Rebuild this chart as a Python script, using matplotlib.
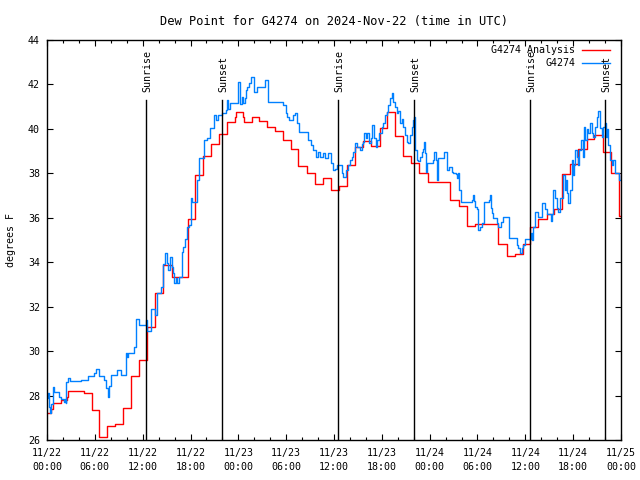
import numpy as np
import matplotlib
matplotlib.use('Agg')
import matplotlib.pyplot as plt

# hours since 2024-11-22 00:00 UTC
red_hours = [0.0, 0.45, 0.75, 1.7, 2.45, 2.62, 4.6, 5.6, 6.56, 7.56, 8.57, 9.57, 10.58,
             11.58, 12.5, 13.5, 14.59, 15.7, 17.65, 18.6, 19.6, 20.6, 21.58, 22.6, 23.6,
             23.75, 24.59, 24.75, 25.71, 26.63, 27.63, 28.64, 29.64, 30.65, 31.52, 32.65,
             33.6, 34.58, 35.59, 36.59, 37.6, 38.65, 39.65, 40.6, 41.77, 42.6, 43.6, 44.6,
             45.6, 46.63, 47.75, 50.6, 51.7, 52.64, 53.65, 56.6, 57.66, 58.74, 59.75, 60.63,
             61.63, 62.68, 63.64, 64.64, 65.64, 66.65, 67.7, 68.6, 69.7, 70.7, 71.7, 72.0]
red_dew = [27.23, 27.4, 27.65, 27.8, 27.95, 28.2, 28.11, 27.35, 26.13, 26.62, 26.7, 27.43, 28.87,
           29.59, 31.07, 32.6, 33.86, 33.35, 35.93, 37.93, 38.78, 39.32, 39.77, 40.31, 40.52,
           40.75, 40.52, 40.31, 40.52, 40.34, 40.1, 39.92, 39.5, 39.11, 38.33, 38.0,
           37.52, 37.79, 37.25, 37.45, 38.37, 39.17, 39.45, 39.22, 40.05, 40.76, 39.67, 38.8,
           38.47, 38.03, 37.63, 36.8, 36.53, 35.63, 35.7, 34.8, 34.28, 34.36, 34.84, 35.57,
           35.95, 36.17, 36.4, 37.96, 38.42, 39.08, 39.53, 39.74, 38.96, 38.0, 36.08, 36.08]

blue_hours = [0.0, 0.04, 0.13, 0.25, 0.38, 0.54, 0.75, 0.88, 1.5, 1.8, 2.13, 2.26, 2.34, 2.43,
              2.63, 2.84, 4.22, 5.2, 5.5, 5.9, 6.1, 6.56, 7.15, 7.44, 7.6, 7.82, 7.99, 8.74,
              9.33, 9.87, 10.0, 10.16, 10.91, 11.12, 11.6, 12.38, 12.58, 13.1, 13.55, 13.76,
              14.26, 14.51, 14.8, 15.01, 15.22, 15.43, 15.64, 15.85, 15.97, 16.2, 16.35, 16.6,
              16.9, 17.1, 17.31, 17.52, 17.85, 18.02, 18.23, 18.86, 19.1, 19.69, 20.03, 20.45,
              20.95, 21.2, 21.49, 21.91, 22.45, 22.62, 22.75, 22.95, 24.0, 24.21, 24.42, 24.62,
              24.84, 24.96, 25.13, 25.38, 25.55, 25.97, 26.3, 27.35, 27.68, 29.64, 29.94, 30.15,
              30.4, 30.82, 31.11, 31.4, 31.61, 32.78, 33.08, 33.4, 33.7, 34.04, 34.24, 34.58,
              34.87, 35.29, 35.58, 35.92, 36.13, 36.34, 36.75, 36.96, 37.09, 37.5, 37.8, 38.0,
              38.22, 38.43, 38.64, 38.85, 39.26, 39.48, 39.68, 39.8, 40.0, 40.18, 40.43, 40.6,
              40.81, 41.02, 41.23, 41.43, 41.68, 41.98, 42.19, 42.4, 42.6, 42.81, 43.03, 43.23,
              43.44, 43.65, 43.86, 44.07, 44.28, 44.49, 44.7, 44.91, 45.12, 45.32, 45.53, 45.74,
              45.95, 46.08, 46.2, 46.37, 46.58, 46.79, 47.0, 47.15, 47.33, 47.47, 47.6, 47.7,
              48.38, 48.55, 48.8, 48.96, 49.09, 49.84, 50.21, 50.47, 50.76, 50.97, 51.3, 51.47,
              51.6, 51.72, 51.89, 53.27, 53.4, 53.56, 53.73, 53.9, 54.1, 54.31, 54.52, 54.82,
              55.44, 55.57, 55.65, 55.78, 55.99, 56.41, 56.62, 56.91, 57.25, 57.95, 58.92, 59.13,
              59.33, 59.55, 59.75, 59.96, 60.67, 60.8, 61.0, 61.21, 61.63, 62.05, 62.47, 62.68,
              63.18, 63.31, 63.51, 63.72, 63.94, 64.14, 64.35, 64.77, 64.98, 65.1, 65.27, 65.39,
              65.6, 65.82, 65.94, 66.1, 66.23, 66.44, 66.65, 66.77, 66.95, 67.2, 67.36, 67.53,
              67.7, 67.9, 68.11, 68.32, 68.53, 68.74, 68.95, 69.16, 69.37, 69.58, 69.78, 69.99,
              70.12, 70.28, 70.41, 70.62, 70.83, 71.03, 71.24, 71.78, 72.0]
blue_dew = [28.1, 27.9, 28.1, 27.5, 27.2, 27.6, 28.37, 28.16, 27.95, 27.85, 27.7, 27.85, 27.65, 28.62,
            28.77, 28.67, 28.7, 28.9, 28.88, 29.0, 29.18, 28.88, 28.7, 28.33, 27.95, 28.43, 28.92, 29.15,
            28.92, 29.9, 29.72, 29.93, 30.2, 31.43, 31.17, 31.4, 30.92, 31.88, 31.63, 32.6,
            32.9, 33.92, 34.43, 33.96, 33.65, 34.25, 33.8, 33.5, 33.05, 33.3, 33.05, 33.35,
            34.48, 34.7, 35.03, 35.57, 35.68, 36.88, 36.73, 37.7, 38.68, 39.5, 39.58, 40.03,
            40.61, 40.4, 40.63, 40.7, 40.85, 41.3, 40.9, 41.15, 42.13, 41.1, 41.45, 41.15,
            41.38, 41.75, 41.9, 42.05, 42.35, 41.68, 41.9, 42.2, 41.22, 41.07, 40.7, 40.55,
            40.4, 40.62, 40.7, 40.25, 39.85, 39.5, 39.27, 39.05, 38.75, 38.98, 38.75, 38.9,
            38.68, 38.9, 38.45, 38.15, 38.2, 38.38, 38.38, 38.0, 37.85, 38.15, 38.38, 38.6,
            38.75, 38.98, 39.35, 39.2, 39.05, 39.3, 39.43, 39.8, 39.6, 39.8, 39.35, 39.6,
            40.17, 39.57, 39.2, 39.5, 39.8, 40.1, 40.25, 40.62, 40.75, 41.07, 41.38, 41.63,
            41.22, 41.0, 40.7, 40.8, 40.25, 40.45, 40.1, 39.72, 39.43, 39.35, 39.72, 40.1,
            40.4, 40.55, 39.05, 38.6, 38.55, 38.75, 38.98, 39.1, 39.43, 38.9, 38.07, 38.45,
            38.6, 38.95, 38.6, 37.7, 38.68, 38.95, 38.15, 38.3, 38.07, 38.0, 37.95, 37.78,
            38.0, 37.25, 36.73, 36.78, 37.03, 36.75, 36.5, 36.4, 35.45, 35.6, 35.75, 36.73,
            36.8, 37.03, 36.43, 36.2, 35.97, 35.75, 35.6, 35.8, 36.02, 35.08, 34.78, 34.63,
            34.43, 34.63, 34.78, 35.03, 35.3, 35.0, 35.6, 36.28, 36.05, 36.65, 36.38, 36.17,
            35.87, 36.17, 37.25, 36.9, 36.43, 36.28, 36.88, 37.93, 37.25, 37.7, 37.1, 36.65,
            37.25, 38.6, 37.93, 38.38, 39.05, 38.75, 38.38, 39.05, 39.5, 38.75, 40.1, 39.5,
            40.0, 39.8, 40.25, 39.8, 39.65, 40.1, 40.55, 40.82, 40.03, 39.65, 40.1, 40.25,
            39.65, 40.0, 39.27, 38.6, 38.38, 38.6, 38.03, 37.7, 37.9]

sunrise = [12.42, 36.5, 60.58]
sunset = [21.95, 46.0, 70.0]

tick_hours = [0, 6, 12, 18, 24, 30, 36, 42, 48, 54, 60, 66, 72]
tick_labels = ['11/22\n00:00', '11/22\n06:00', '11/22\n12:00', '11/22\n18:00',
               '11/23\n00:00', '11/23\n06:00', '11/23\n12:00', '11/23\n18:00',
               '11/24\n00:00', '11/24\n06:00', '11/24\n12:00', '11/24\n18:00',
               '11/25\n00:00']

plt.rcParams['font.family'] = 'DejaVu Sans Mono'
plt.rcParams['font.size'] = 7.2

fig = plt.figure(figsize=(6.4, 4.8), dpi=100)
ax = fig.add_axes([47/640, 1 - 440/480, 574/640, 400/480])

ax.plot(red_hours, red_dew, color='#ff0000', lw=1.0, drawstyle='steps-post')
ax.plot(blue_hours, blue_dew, color='#0080ff', lw=1.0, drawstyle='steps-post')

# sunrise / sunset markers
xform = ax.get_xaxis_transform()
for t in sunrise:
    ax.plot([t, t], [0, 0.85], color='black', lw=1.0, transform=xform)
    ax.text(t + 0.15, 0.87, 'Sunrise', rotation=90, ha='center', va='bottom', transform=xform)
for t in sunset:
    ax.plot([t, t], [0, 0.85], color='black', lw=1.0, transform=xform)
    ax.text(t + 0.15, 0.87, 'Sunset', rotation=90, ha='center', va='bottom', transform=xform)

ax.set_xlim(0, 72)
ax.set_ylim(26, 44)
ax.set_xticks(tick_hours)
ax.set_xticklabels(tick_labels, linespacing=1.5)
ax.set_xticks(np.arange(0, 73, 2), minor=True)
ax.set_yticks(np.arange(26, 45, 2))
ax.tick_params(which='both', direction='in', top=True, right=True, colors='black')
ax.tick_params(which='major', length=4.5, width=0.8)
ax.tick_params(which='minor', length=2.5, width=0.8)
ax.tick_params(axis='x', pad=6)
ax.tick_params(axis='y', pad=5)
for s in ax.spines.values():
    s.set_linewidth(1.0)

ax.set_ylabel('degrees F', labelpad=9)
ax.set_title('Dew Point for G4274 on 2024-Nov-22 (time in UTC)', pad=11)

# legend, gnuplot style
ax.text(0.92, 0.975, 'G4274 Analysis', ha='right', va='center', transform=ax.transAxes)
ax.plot([0.932, 0.981], [0.975, 0.975], color='#ff0000', lw=1.0, transform=ax.transAxes, clip_on=False)
ax.text(0.92, 0.9425, 'G4274', ha='right', va='center', transform=ax.transAxes)
ax.plot([0.932, 0.981], [0.9425, 0.9425], color='#0080ff', lw=1.0, transform=ax.transAxes, clip_on=False)

fig.savefig('out.png', dpi=100)
